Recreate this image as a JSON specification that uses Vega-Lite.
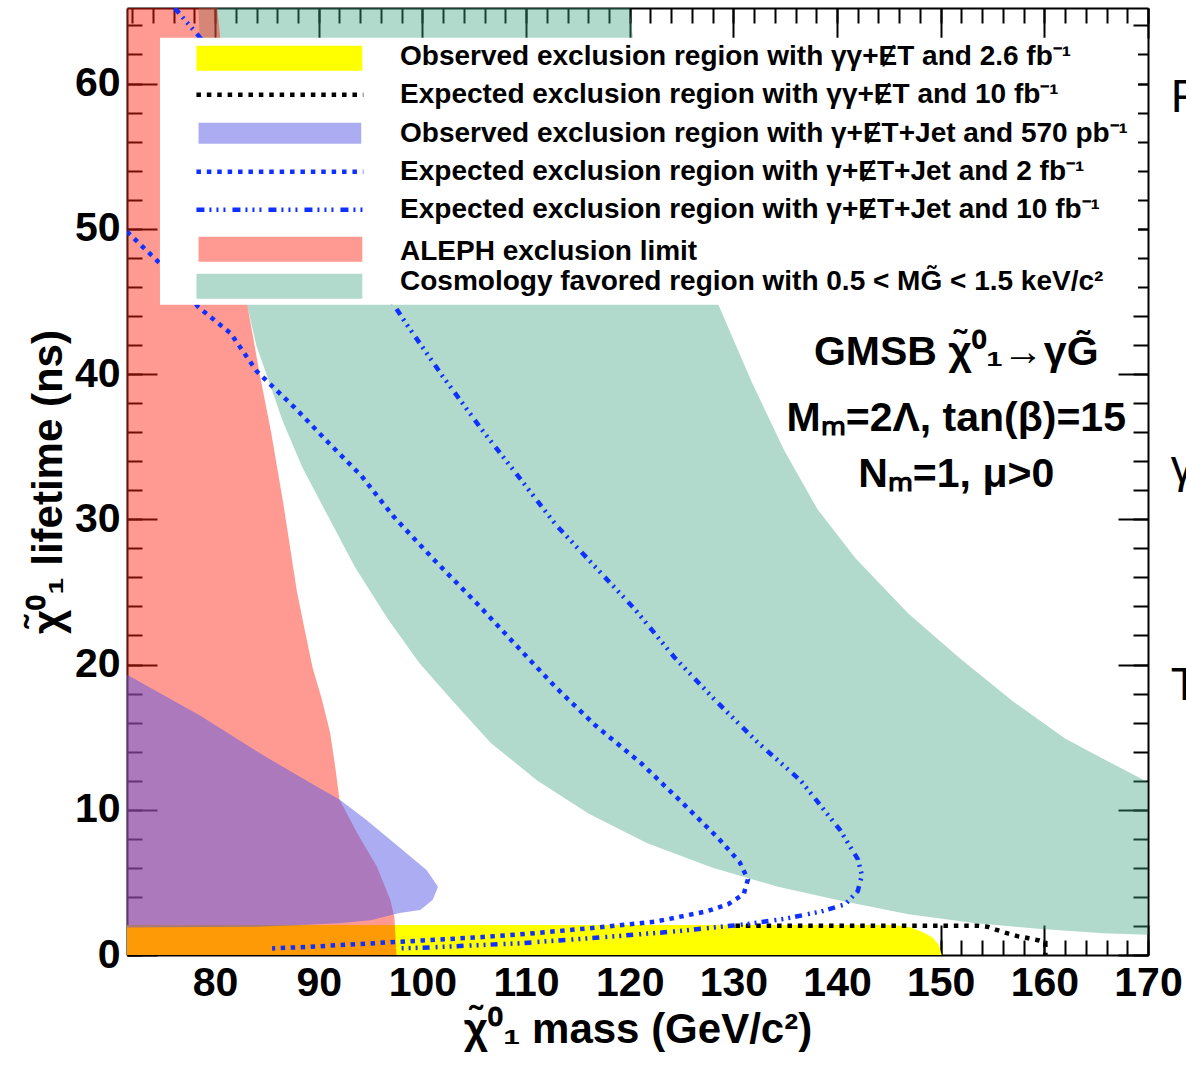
{
  "$schema": "https://vega.github.io/schema/vega-lite/v6.json",
  "width": 1021,
  "height": 947,
  "autosize": {"type": "none"},
  "padding": {"left": 127, "top": 8, "right": 38, "bottom": 111},
  "background": "white",
  "config": {
    "view": {"stroke": null},
    "font": "Liberation Sans",
    "axis": {"grid": false, "zindex": 1, "labels": false, "ticks": false, "domain": false, "title": null, "tickColor": "black", "domainColor": "black", "labelColor": "black", "titleColor": "black", "labelFont": "Liberation Sans", "titleFont": "Liberation Sans", "labelFontWeight": "bold", "titleFontWeight": "bold", "labelFlush": false, "labelOverlap": false, "labelBound": false}
  },
  "datasets": {
    "cosmo": [
      {"i": 0, "m": 78.4, "t": 65.2}, {"i": 1, "m": 78.5, "t": 63.2}, {"i": 2, "m": 83.1, "t": 44.7},
      {"i": 3, "m": 84.0, "t": 41.9}, {"i": 4, "m": 85.0, "t": 39.9}, {"i": 5, "m": 86.5, "t": 36.8},
      {"i": 6, "m": 88.4, "t": 33.6}, {"i": 7, "m": 90.9, "t": 30.2}, {"i": 8, "m": 93.5, "t": 26.7},
      {"i": 9, "m": 96.6, "t": 23.2}, {"i": 10, "m": 99.7, "t": 20.1}, {"i": 11, "m": 102.9, "t": 17.5},
      {"i": 12, "m": 106.6, "t": 14.6}, {"i": 13, "m": 111.1, "t": 12.0}, {"i": 14, "m": 116.1, "t": 9.7},
      {"i": 15, "m": 121.7, "t": 7.7}, {"i": 16, "m": 128.0, "t": 6.0}, {"i": 17, "m": 134.3, "t": 4.7},
      {"i": 18, "m": 140.6, "t": 3.7}, {"i": 19, "m": 146.9, "t": 2.8}, {"i": 20, "m": 153.2, "t": 2.2},
      {"i": 21, "m": 159.4, "t": 1.8}, {"i": 22, "m": 165.7, "t": 1.5}, {"i": 23, "m": 170.0, "t": 1.4},
      {"i": 24, "m": 170.0, "t": 11.9}, {"i": 25, "m": 165.7, "t": 13.5}, {"i": 26, "m": 162.0, "t": 14.9},
      {"i": 27, "m": 156.9, "t": 17.5}, {"i": 28, "m": 151.9, "t": 20.4}, {"i": 29, "m": 146.9, "t": 23.5},
      {"i": 30, "m": 141.8, "t": 27.3}, {"i": 31, "m": 138.1, "t": 30.7}, {"i": 32, "m": 134.9, "t": 34.75},
      {"i": 33, "m": 131.8, "t": 39.4}, {"i": 34, "m": 128.6, "t": 44.7}, {"i": 35, "m": 120.3, "t": 63.2},
      {"i": 36, "m": 120.0, "t": 65.2}
    ],
    "obsgg": [
      {"i": 0, "m": 71.5, "t": 0}, {"i": 1, "m": 71.5, "t": 2.07}, {"i": 2, "m": 145.5, "t": 2.07},
      {"i": 3, "m": 147.0, "t": 1.92}, {"i": 4, "m": 148.2, "t": 1.6}, {"i": 5, "m": 149.2, "t": 1.2},
      {"i": 6, "m": 149.8, "t": 0.7}, {"i": 7, "m": 150.1, "t": 0}
    ],
    "obsjet": [
      {"i": 0, "m": 71.5, "t": 1.9}, {"i": 1, "m": 71.5, "t": 19.3}, {"i": 2, "m": 78.5, "t": 16.5},
      {"i": 3, "m": 85.0, "t": 13.6}, {"i": 4, "m": 89.8, "t": 11.6}, {"i": 5, "m": 92.0, "t": 10.7},
      {"i": 6, "m": 94.6, "t": 9.3}, {"i": 7, "m": 97.8, "t": 7.4}, {"i": 8, "m": 100.4, "t": 5.85},
      {"i": 9, "m": 101.5, "t": 4.7}, {"i": 10, "m": 101.0, "t": 3.8}, {"i": 11, "m": 99.8, "t": 3.1},
      {"i": 12, "m": 97.8, "t": 2.9}, {"i": 13, "m": 95.0, "t": 2.4}, {"i": 14, "m": 92.2, "t": 2.2},
      {"i": 15, "m": 88.0, "t": 2.05}, {"i": 16, "m": 84.0, "t": 1.95}
    ],
    "aleph": [
      {"i": 0, "m": 71.5, "t": 0}, {"i": 1, "m": 71.5, "t": 65.2}, {"i": 2, "m": 80.2, "t": 65.2},
      {"i": 3, "m": 83.1, "t": 44.77}, {"i": 4, "m": 84.3, "t": 40}, {"i": 5, "m": 85.4, "t": 36},
      {"i": 6, "m": 86.6, "t": 31}, {"i": 7, "m": 87.9, "t": 25}, {"i": 8, "m": 88.7, "t": 22.2},
      {"i": 9, "m": 89.4, "t": 19.8}, {"i": 10, "m": 90.3, "t": 17.6}, {"i": 11, "m": 91.1, "t": 15.3},
      {"i": 12, "m": 91.6, "t": 12.9}, {"i": 13, "m": 92.0, "t": 10.7}, {"i": 14, "m": 93.7, "t": 8.4},
      {"i": 15, "m": 95.6, "t": 6.1}, {"i": 16, "m": 96.9, "t": 3.8}, {"i": 17, "m": 97.3, "t": 2.6},
      {"i": 18, "m": 97.5, "t": 0}
    ],
    "expgg10": [
      {"i": 0, "m": 130.2, "t": 2.02}, {"i": 1, "m": 153.5, "t": 2.02}, {"i": 2, "m": 154.5, "t": 1.95},
      {"i": 3, "m": 155.3, "t": 1.75}, {"i": 4, "m": 156.4, "t": 1.5}, {"i": 5, "m": 157.4, "t": 1.3},
      {"i": 6, "m": 158.5, "t": 1.15}, {"i": 7, "m": 159.5, "t": 1.0}, {"i": 8, "m": 160.1, "t": 0.85},
      {"i": 9, "m": 160.1, "t": 0}
    ],
    "expjet2": [
      {"i": 0, "m": 71.5, "t": 49.8}, {"i": 1, "m": 74.7, "t": 47.6}, {"i": 2, "m": 78.4, "t": 44.6},
      {"i": 3, "m": 81.5, "t": 42.8}, {"i": 4, "m": 84.0, "t": 40.2}, {"i": 5, "m": 87.8, "t": 37.6},
      {"i": 6, "m": 90.9, "t": 35.3}, {"i": 7, "m": 94.1, "t": 33.0}, {"i": 8, "m": 97.2, "t": 30.2},
      {"i": 9, "m": 101.0, "t": 27.3}, {"i": 10, "m": 105.4, "t": 24.1}, {"i": 11, "m": 109.2, "t": 21.2},
      {"i": 12, "m": 112.9, "t": 18.4}, {"i": 13, "m": 116.7, "t": 15.8}, {"i": 14, "m": 121.1, "t": 13.2},
      {"i": 15, "m": 124.9, "t": 10.6}, {"i": 16, "m": 128.6, "t": 8.0}, {"i": 17, "m": 130.6, "t": 6.4},
      {"i": 18, "m": 131.4, "t": 5.2}, {"i": 19, "m": 131.0, "t": 4.2}, {"i": 20, "m": 129.5, "t": 3.5},
      {"i": 21, "m": 127.4, "t": 3.0}, {"i": 22, "m": 122.5, "t": 2.3}, {"i": 23, "m": 117.0, "t": 1.9},
      {"i": 24, "m": 110.0, "t": 1.45}, {"i": 25, "m": 105.0, "t": 1.2}, {"i": 26, "m": 100.0, "t": 1.0},
      {"i": 27, "m": 95.0, "t": 0.8}, {"i": 28, "m": 90.0, "t": 0.6}, {"i": 29, "m": 85.5, "t": 0.45}
    ],
    "expjet10": [
      {"i": 0, "m": 76.1, "t": 65.2}, {"i": 1, "m": 78.5, "t": 63.2}, {"i": 2, "m": 97.3, "t": 44.7},
      {"i": 3, "m": 98.5, "t": 43.4}, {"i": 4, "m": 101.9, "t": 39.9}, {"i": 5, "m": 105.7, "t": 36.2},
      {"i": 6, "m": 109.2, "t": 33.0}, {"i": 7, "m": 112.9, "t": 29.6}, {"i": 8, "m": 116.7, "t": 26.7},
      {"i": 9, "m": 120.5, "t": 23.8}, {"i": 10, "m": 124.3, "t": 20.5}, {"i": 11, "m": 128.3, "t": 17.5},
      {"i": 12, "m": 132.4, "t": 14.6}, {"i": 13, "m": 136.5, "t": 12.0}, {"i": 14, "m": 140.3, "t": 8.6},
      {"i": 15, "m": 142.0, "t": 6.6}, {"i": 16, "m": 142.4, "t": 5.5}, {"i": 17, "m": 142.0, "t": 4.4},
      {"i": 18, "m": 140.8, "t": 3.5}, {"i": 19, "m": 138.5, "t": 3.0}, {"i": 20, "m": 135.0, "t": 2.5},
      {"i": 21, "m": 131.0, "t": 2.1}, {"i": 22, "m": 124.0, "t": 1.6}, {"i": 23, "m": 117.0, "t": 1.2},
      {"i": 24, "m": 109.2, "t": 0.8}, {"i": 25, "m": 100.0, "t": 0.5}, {"i": 26, "m": 97.5, "t": 0.45}
    ],
    "legsw": [
      {"e": "yellow", "m1": 78.2, "m2": 94.2, "t1": 60.88, "t2": 62.6},
      {"e": "purple", "m1": 78.4, "m2": 94.1, "t1": 55.85, "t2": 57.3},
      {"e": "red", "m1": 78.4, "m2": 94.2, "t1": 47.73, "t2": 49.45},
      {"e": "green", "m1": 78.2, "m2": 94.2, "t1": 45.18, "t2": 46.9}
    ],
    "legtxt": [
      {"label": "Observed exclusion region with γγ+ɆT and 2.6 fb⁻¹", "t": 61.29},
      {"label": "Expected exclusion region with γγ+ɆT and 10 fb⁻¹", "t": 58.68},
      {"label": "Observed exclusion region with γ+ɆT+Jet and 570 pb⁻¹", "t": 55.99},
      {"label": "Expected exclusion region with γ+ɆT+Jet and 2 fb⁻¹", "t": 53.37},
      {"label": "Expected exclusion region with γ+ɆT+Jet and 10 fb⁻¹", "t": 50.76},
      {"label": "ALEPH exclusion limit", "t": 47.87},
      {"label": "Cosmology favored region with 0.5 < MG̃ < 1.5 keV/c²", "t": 45.8}
    ],
    "annot": [
      {"txt": "GMSB χ̃⁰₁→γG̃", "t": 40.6},
      {"txt": "Mₘ=2Λ, tan(β)=15", "t": 36.05},
      {"txt": "Nₘ=1, μ>0", "t": 32.2}
    ],
    "edge": [
      {"txt": "F", "t": 58.05},
      {"txt": "γ", "t": 32.6},
      {"txt": "T", "t": 17.56}
    ],
    "one": [{}]
  },
  "layer": [
    {
      "data": {"name": "cosmo"},
      "mark": {"type": "line", "fill": "#3fa37f", "fillOpacity": 0.4, "strokeWidth": 0, "strokeOpacity": 0, "clip": true},
      "encoding": {
        "x": {"field": "m", "type": "quantitative", "scale": {"domain": [71.5, 170], "nice": false, "zero": false},
          "axis": {"orient": "bottom", "values": [80, 90, 100, 110, 120, 130, 140, 150, 160, 170], "labels": true, "labelFontSize": 41, "labelPadding": 8, "title": "χ̃⁰₁ mass (GeV/c²)", "titleFontSize": 42, "titlePadding": 6}},
        "y": {"field": "t", "type": "quantitative", "scale": {"domain": [0, 65.2], "nice": false, "zero": false},
          "axis": {"orient": "left", "values": [0, 10, 20, 30, 40, 50, 60], "labels": true, "labelFontSize": 41, "labelPadding": 7, "title": "χ̃⁰₁ lifetime (ns)", "titleFontSize": 42, "titlePadding": 4}},
        "order": {"field": "i", "type": "quantitative"}
      }
    },
    {
      "data": {"name": "obsgg"},
      "mark": {"type": "line", "fill": "#ffff00", "strokeWidth": 0, "strokeOpacity": 0, "clip": true},
      "encoding": {
        "x": {"field": "m", "type": "quantitative", "scale": {"domain": [71.5, 170], "nice": false, "zero": false},
          "axis": {"orient": "bottom", "values": [80, 90, 100, 110, 120, 130, 140, 150, 160, 170], "ticks": true, "tickSize": -30, "tickWidth": 2, "domain": true, "domainWidth": 2}},
        "y": {"field": "t", "type": "quantitative", "scale": {"domain": [0, 65.2], "nice": false, "zero": false},
          "axis": {"orient": "left", "values": [0, 10, 20, 30, 40, 50, 60], "ticks": true, "tickSize": -30, "tickWidth": 2, "domain": true, "domainWidth": 2}},
        "order": {"field": "i", "type": "quantitative"}
      }
    },
    {
      "data": {"name": "aleph"},
      "mark": {"type": "line", "fill": "#ff2010", "fillOpacity": 0.45, "strokeWidth": 0, "strokeOpacity": 0, "clip": true},
      "encoding": {
        "x": {"field": "m", "type": "quantitative", "scale": {"domain": [71.5, 170], "nice": false, "zero": false},
          "axis": {"orient": "top", "values": [80, 90, 100, 110, 120, 130, 140, 150, 160, 170], "ticks": true, "tickSize": -30, "tickWidth": 2, "domain": true, "domainWidth": 2}},
        "y": {"field": "t", "type": "quantitative", "scale": {"domain": [0, 65.2], "nice": false, "zero": false},
          "axis": {"orient": "right", "values": [0, 10, 20, 30, 40, 50, 60], "ticks": true, "tickSize": -30, "tickWidth": 2, "domain": true, "domainWidth": 2}},
        "order": {"field": "i", "type": "quantitative"}
      }
    },
    {
      "data": {"name": "obsjet"},
      "mark": {"type": "line", "fill": "#5a5ae6", "fillOpacity": 0.5, "strokeWidth": 0, "strokeOpacity": 0, "clip": true},
      "encoding": {
        "x": {"field": "m", "type": "quantitative", "scale": {"domain": [71.5, 170], "nice": false, "zero": false},
          "axis": {"orient": "bottom", "values": [72, 74, 76, 78, 80, 82, 84, 86, 88, 90, 92, 94, 96, 98, 100, 102, 104, 106, 108, 110, 112, 114, 116, 118, 120, 122, 124, 126, 128, 130, 132, 134, 136, 138, 140, 142, 144, 146, 148, 150, 152, 154, 156, 158, 160, 162, 164, 166, 168, 170], "ticks": true, "tickSize": -15, "tickWidth": 2}},
        "y": {"field": "t", "type": "quantitative", "scale": {"domain": [0, 65.2], "nice": false, "zero": false},
          "axis": {"orient": "left", "values": [0, 2, 4, 6, 8, 10, 12, 14, 16, 18, 20, 22, 24, 26, 28, 30, 32, 34, 36, 38, 40, 42, 44, 46, 48, 50, 52, 54, 56, 58, 60, 62, 64], "ticks": true, "tickSize": -15, "tickWidth": 2}},
        "order": {"field": "i", "type": "quantitative"}
      }
    },
    {
      "data": {"name": "expgg10"},
      "mark": {"type": "line", "color": "black", "strokeWidth": 4.5, "strokeDash": [4.5, 5.9], "strokeCap": "butt", "clip": true},
      "encoding": {
        "x": {"field": "m", "type": "quantitative", "scale": {"domain": [71.5, 170], "nice": false, "zero": false},
          "axis": {"orient": "top", "values": [72, 74, 76, 78, 80, 82, 84, 86, 88, 90, 92, 94, 96, 98, 100, 102, 104, 106, 108, 110, 112, 114, 116, 118, 120, 122, 124, 126, 128, 130, 132, 134, 136, 138, 140, 142, 144, 146, 148, 150, 152, 154, 156, 158, 160, 162, 164, 166, 168, 170], "ticks": true, "tickSize": -15, "tickWidth": 2}},
        "y": {"field": "t", "type": "quantitative", "scale": {"domain": [0, 65.2], "nice": false, "zero": false},
          "axis": {"orient": "right", "values": [0, 2, 4, 6, 8, 10, 12, 14, 16, 18, 20, 22, 24, 26, 28, 30, 32, 34, 36, 38, 40, 42, 44, 46, 48, 50, 52, 54, 56, 58, 60, 62, 64], "ticks": true, "tickSize": -15, "tickWidth": 2}},
        "order": {"field": "i", "type": "quantitative"}
      }
    },
    {
      "data": {"name": "expjet2"},
      "mark": {"type": "line", "color": "#1030ff", "strokeWidth": 4.5, "strokeDash": [4.5, 5.5], "strokeCap": "butt", "clip": true},
      "encoding": {
        "x": {"field": "m", "type": "quantitative", "axis": null},
        "y": {"field": "t", "type": "quantitative", "axis": null},
        "order": {"field": "i", "type": "quantitative"}
      }
    },
    {
      "data": {"name": "expjet10"},
      "mark": {"type": "line", "color": "#1030ff", "strokeWidth": 4.5, "strokeDash": [7, 5, 2, 5, 2, 5, 2, 6], "strokeCap": "butt", "clip": true},
      "encoding": {
        "x": {"field": "m", "type": "quantitative", "axis": null},
        "y": {"field": "t", "type": "quantitative", "axis": null},
        "order": {"field": "i", "type": "quantitative"}
      }
    },
    {
      "data": {"name": "one"},
      "mark": {"type": "rect", "fill": "white"},
      "encoding": {
        "x": {"datum": 74.68, "type": "quantitative", "axis": null},
        "x2": {"datum": 169.04},
        "y": {"datum": 44.77, "type": "quantitative", "axis": null},
        "y2": {"datum": 63.15}
      }
    },
    {
      "data": {"name": "legsw"},
      "mark": {"type": "rect"},
      "encoding": {
        "x": {"field": "m1", "type": "quantitative", "axis": null},
        "x2": {"field": "m2"},
        "y": {"field": "t1", "type": "quantitative", "axis": null},
        "y2": {"field": "t2"},
        "fill": {"field": "e", "type": "nominal", "scale": {"domain": ["yellow", "purple", "red", "green"], "range": ["#ffff00", "#acacf2", "#ff9a92", "#b2dacc"]}, "legend": null}
      }
    },
    {
      "data": {"name": "one"},
      "mark": {"type": "rule", "color": "black", "strokeWidth": 4.5, "strokeDash": [4.5, 5.9], "strokeCap": "butt"},
      "encoding": {
        "x": {"datum": 78.2, "type": "quantitative", "axis": null},
        "x2": {"datum": 94.3},
        "y": {"datum": 59.23, "type": "quantitative", "axis": null}
      }
    },
    {
      "data": {"name": "one"},
      "mark": {"type": "rule", "color": "#1030ff", "strokeWidth": 4.5, "strokeDash": [4.5, 5.9], "strokeCap": "butt"},
      "encoding": {
        "x": {"datum": 78.2, "type": "quantitative", "axis": null},
        "x2": {"datum": 94.3},
        "y": {"datum": 53.93, "type": "quantitative", "axis": null}
      }
    },
    {
      "data": {"name": "one"},
      "mark": {"type": "rule", "color": "#1030ff", "strokeWidth": 4.5, "strokeDash": [8, 5, 2, 5, 2, 5, 2, 7], "strokeCap": "butt"},
      "encoding": {
        "x": {"datum": 78.2, "type": "quantitative", "axis": null},
        "x2": {"datum": 94.3},
        "y": {"datum": 51.31, "type": "quantitative", "axis": null}
      }
    },
    {
      "data": {"name": "legtxt"},
      "mark": {"type": "text", "align": "left", "baseline": "alphabetic", "fontSize": 28, "fontWeight": "bold", "font": "Liberation Sans", "color": "black"},
      "encoding": {
        "x": {"datum": 97.84, "type": "quantitative", "axis": null},
        "y": {"field": "t", "type": "quantitative", "axis": null},
        "text": {"field": "label"}
      }
    },
    {
      "data": {"name": "annot"},
      "mark": {"type": "text", "align": "center", "baseline": "alphabetic", "fontSize": 41, "fontWeight": "bold", "font": "Liberation Sans", "color": "black"},
      "encoding": {
        "x": {"datum": 151.5, "type": "quantitative", "axis": null},
        "y": {"field": "t", "type": "quantitative", "axis": null},
        "text": {"field": "txt"}
      }
    },
    {
      "data": {"name": "edge"},
      "mark": {"type": "text", "align": "left", "baseline": "alphabetic", "fontSize": 46, "font": "Liberation Sans", "color": "black"},
      "encoding": {
        "x": {"datum": 172.2, "type": "quantitative", "axis": null},
        "y": {"field": "t", "type": "quantitative", "axis": null},
        "text": {"field": "txt"}
      }
    }
  ],
  "resolve": {"axis": {"x": "independent", "y": "independent"}}
}
